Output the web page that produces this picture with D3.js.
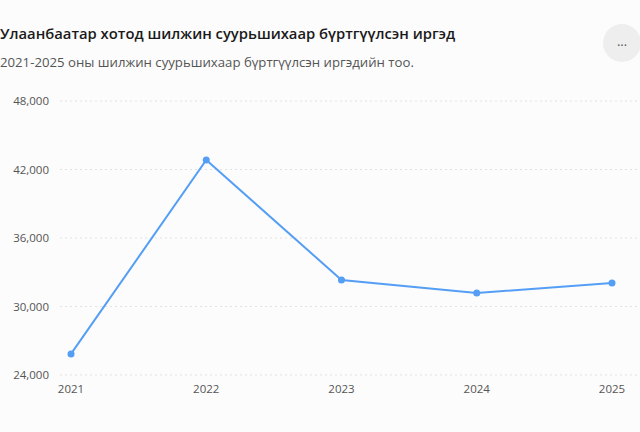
<!DOCTYPE html><html><head><meta charset="utf-8">
<script src="https://cdn.jsdelivr.net/npm/d3@7"></script>
<style>body{margin:0;background:#fcfcfc;font-family:"Open Sans","Noto Sans",sans-serif}</style></head><body>
<svg id="c" width="640" height="432"></svg>
<script>
const years=["2021","2022","2023","2024","2025"];
const values=[25850,42830,32320,31180,32060];
const yTicks=[24000,30000,36000,42000,48000];
const svg=d3.select("#c");
svg.append("rect").attr("width",640).attr("height",432).attr("fill","#fcfcfc");
svg.append("text").attr("x",0).attr("y",39).attr("font-size",14.8).attr("font-weight",600).attr("fill","#1a1a1a").text("Улаанбаатар хотод шилжин суурьшихаар бүртгүүлсэн иргэд");
svg.append("text").attr("x",0).attr("y",67).attr("font-size",13.2).attr("fill","#555").text("2021-2025 оны шилжин суурьшихаар бүртгүүлсэн иргэдийн тоо.");
svg.append("circle").attr("cx",622).attr("cy",43).attr("r",19).attr("fill","#eeeeee");
svg.append("text").attr("x",622).attr("y",46).attr("text-anchor","middle").attr("font-size",13).attr("fill","#555").text("...");
const x=d3.scalePoint().domain(years).range([71,612]);
const y=d3.scaleLinear().domain([24000,48000]).range([375,101]);
const g=svg.append("g");
yTicks.forEach(t=>{
 g.append("line").attr("x1",60).attr("x2",640).attr("y1",y(t)).attr("y2",y(t)).attr("stroke","#e2e2e2").attr("stroke-dasharray","2,3");
 g.append("text").attr("x",49).attr("y",y(t)+4).attr("text-anchor","end").attr("font-size",11.5).attr("fill","#555").text(d3.format(",")(t));
});
years.forEach(yr=>g.append("text").attr("x",x(yr)).attr("y",393).attr("text-anchor","middle").attr("font-size",11.5).attr("fill","#555").text(yr));
const line=d3.line().x((d,i)=>x(years[i])).y(d=>y(d));
g.append("path").datum(values).attr("d",line).attr("fill","none").attr("stroke","#559ef5").attr("stroke-width",2);
g.selectAll("circle.p").data(values).join("circle").attr("cx",(d,i)=>x(years[i])).attr("cy",d=>y(d)).attr("r",3.5).attr("fill","#559ef5");
</script></body></html>
